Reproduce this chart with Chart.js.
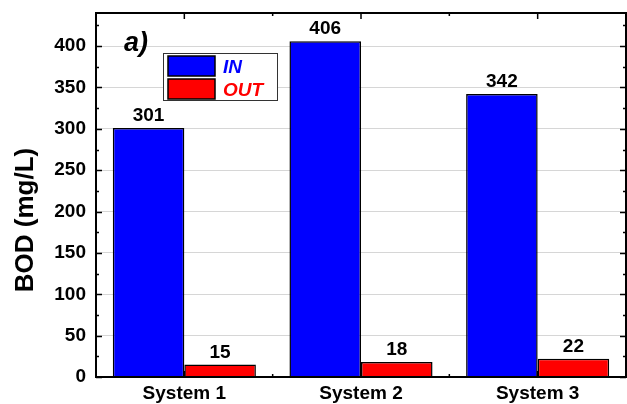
<!DOCTYPE html>
<html>
<head>
<meta charset="utf-8">
<script src="https://cdn.jsdelivr.net/npm/chart.js@4/dist/chart.umd.min.js"></script>
<style>
  html, body { margin: 0; padding: 0; background: #fff; }
  #wrap { width: 627px; height: 404px; }
</style>
</head>
<body>
<div id="wrap"><canvas id="c" width="627" height="404"></canvas></div>
<script>
// BOD concentrations (mg/L) at inlet and outlet of each treatment system
const systems = ['System 1', 'System 2', 'System 3'];
const bodIn = [301, 406, 342];
const bodOut = [15, 18, 22];
const seriesNames = ['IN', 'OUT'];
const yTicks = [0, 50, 100, 150, 200, 250, 300, 350, 400];
const yAxisTitle = 'BOD (mg/L)';
const panelTag = 'a)';

const FONT = 'Arial, "Liberation Sans", sans-serif';

// Frame, inward ticks, value labels, panel tag, legend and axis title
const decor = {
  id: 'decor',
  afterDatasetsDraw(chart) {
    const { ctx, chartArea: a, scales: { x, y } } = chart;
    ctx.save();

    // value labels above each bar
    ctx.fillStyle = '#000';
    ctx.font = 'bold 19px ' + FONT;
    ctx.textAlign = 'center';
    ctx.textBaseline = 'alphabetic';
    chart.data.datasets.forEach((ds, di) => {
      chart.getDatasetMeta(di).data.forEach((bar, i) => {
        ctx.fillText(String(ds.data[i]), bar.x, bar.y - 7);
      });
    });

    // frame
    ctx.strokeStyle = '#000';
    ctx.lineWidth = 2;
    ctx.strokeRect(a.left, a.top, a.right - a.left, a.bottom - a.top);

    // inward ticks on left/right (major every 50, minor every 25)
    ctx.lineWidth = 1.5;
    for (let v = 0; v <= 440; v += 25) {
      const py = Math.round(y.getPixelForValue(v)) + 0.5;
      const len = v % 50 === 0 ? 6 : 3;
      ctx.beginPath();
      ctx.moveTo(a.left, py); ctx.lineTo(a.left + len, py);
      ctx.moveTo(a.right, py); ctx.lineTo(a.right - len, py);
      ctx.stroke();
    }
    // inward ticks on top/bottom (centres and group boundaries)
    for (let i = 0; i < systems.length; i++) {
      const cx = x.getPixelForValue(i);
      ctx.beginPath();
      ctx.moveTo(cx, a.top); ctx.lineTo(cx, a.top + 6);
      ctx.moveTo(cx, a.bottom); ctx.lineTo(cx, a.bottom - 6);
      ctx.stroke();
      if (i < systems.length - 1) {
        const bx = (cx + x.getPixelForValue(i + 1)) / 2;
        ctx.beginPath();
        ctx.moveTo(bx, a.top); ctx.lineTo(bx, a.top + 3);
        ctx.moveTo(bx, a.bottom); ctx.lineTo(bx, a.bottom - 3);
        ctx.stroke();
      }
    }

    // panel tag
    ctx.font = 'italic bold 27px ' + FONT;
    ctx.textAlign = 'left';
    ctx.fillStyle = '#000';
    ctx.fillText(panelTag, 124, 51);

    // legend
    const lx = 163, ly = 53, lw = 114, lh = 47;
    ctx.fillStyle = '#fff';
    ctx.fillRect(lx, ly, lw, lh);
    ctx.strokeStyle = '#333';
    ctx.lineWidth = 1;
    ctx.strokeRect(lx + 0.5, ly + 0.5, lw, lh);
    chart.data.datasets.forEach((ds, di) => {
      const sy = ly + 3 + di * 23;
      ctx.fillStyle = ds.backgroundColor;
      ctx.fillRect(lx + 5, sy, 47, 20);
      ctx.strokeStyle = '#000';
      ctx.lineWidth = 1.5;
      ctx.strokeRect(lx + 5, sy, 47, 20);
      ctx.fillStyle = ds.backgroundColor;
      ctx.font = 'italic bold 19px ' + FONT;
      ctx.fillText(ds.label, lx + 60, sy + 17);
    });

    // y axis title
    ctx.translate(26, 220);
    ctx.rotate(-Math.PI / 2);
    ctx.font = 'bold 26px ' + FONT;
    ctx.textAlign = 'center';
    ctx.textBaseline = 'middle';
    ctx.fillStyle = '#000';
    ctx.fillText(yAxisTitle, 0, 0);
    ctx.restore();
  }
};

new Chart(document.getElementById('c'), {
  type: 'bar',
  data: {
    labels: systems,
    datasets: [
      { label: seriesNames[0], data: bodIn, backgroundColor: '#0000FF', borderColor: '#000', borderWidth: 1.5, borderSkipped: 'bottom' },
      { label: seriesNames[1], data: bodOut, backgroundColor: '#FF0000', borderColor: '#000', borderWidth: 1.5, borderSkipped: 'bottom' }
    ]
  },
  options: {
    responsive: false,
    animation: false,
    devicePixelRatio: 1,
    layout: { padding: { top: 13, right: 1, left: 0, bottom: 0 } },
    datasets: { bar: { categoryPercentage: 0.81, barPercentage: 1.0 } },
    plugins: { legend: { display: false }, tooltip: { enabled: false } },
    scales: {
      x: {
        offset: true,
        grid: { display: false, drawTicks: false },
        border: { display: false },
        ticks: { color: '#000', font: { family: FONT, size: 19, weight: 'bold' }, padding: 5 },
        afterFit(s) { s.height = 27; s.paddingLeft = 0; s.paddingRight = 0; }
      },
      y: {
        min: 0, max: 440,
        afterBuildTicks(s) { s.ticks = yTicks.map(v => ({ value: v })); },
        grid: { color: '#d6d6d6', lineWidth: 1, drawTicks: false },
        border: { display: false },
        ticks: { color: '#000', font: { family: FONT, size: 19, weight: 'bold' }, padding: 10 },
        afterFit(s) { s.width = 96; s.paddingTop = 0; s.paddingBottom = 0; }
      }
    }
  },
  plugins: [decor]
});
</script>
</body>
</html>
